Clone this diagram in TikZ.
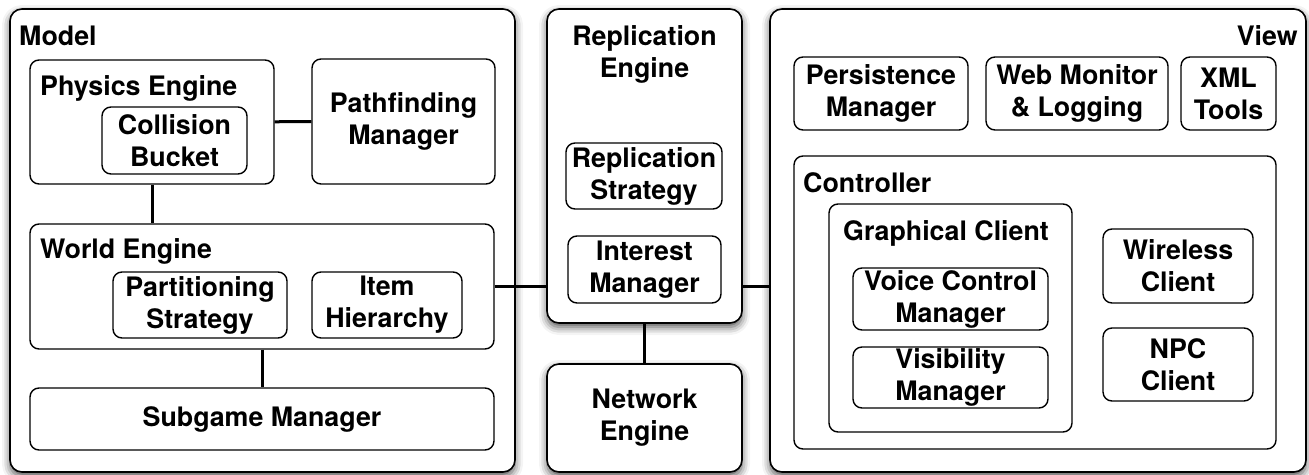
\documentclass[tikz,border=0pt]{standalone}
\usepackage{fontspec}
\setmainfont{TeX Gyre Heros}
\usetikzlibrary{shadows.blur}
\newcommand{\lbl}{\fontsize{26.8}{32}\selectfont\bfseries}
\tikzset{
  box/.style={draw, line width=1.4pt, rounded corners=9pt, fill=white, inner sep=0pt, align=center, font=\lbl},
  outerbox/.style={box, rounded corners=12pt, line width=1.6pt,
    blur shadow={shadow xshift=0pt, shadow yshift=-4pt, shadow blur radius=8pt, shadow opacity=70}},
  ttl/.style={inner sep=0pt, font=\lbl},
  conn/.style={line width=3pt}
}
\newcommand{\mybox}[7][]{\node[box,#1,minimum width={(#5)-(#3)},minimum height={(#6)-(#4)}] (#2) at ({((#3)+(#5))/2},{((#4)+(#6))/2}) {#7};}
\begin{document}
\begin{tikzpicture}[x=1pt,y=-1pt]
\useasboundingbox (0,0) rectangle (1309,474);
% outer boxes
\mybox[outerbox]{model}{10}{9}{515}{472}{}
\mybox[outerbox]{repl}{547}{9}{742}{323}{}
\mybox[outerbox]{net}{547}{364}{742}{472}{Network\\Engine}
\mybox[outerbox]{view}{770}{9}{1306}{472}{}
% Model
\node[ttl, anchor=base west] (modelt) at (19,45) {Model};
\mybox{phys}{30}{60}{274}{184}{}
\node[ttl, anchor=base west] (physt) at (40,95) {Physics Engine};
\mybox{coll}{102}{107}{247}{174}{Collision\\Bucket}
\mybox{path}{312}{59}{495}{184}{Pathfinding\\Manager}
\mybox{world}{30}{224}{494}{349}{}
\node[ttl, anchor=base west] (worldt) at (40,258) {World Engine};
\mybox{part}{113}{272}{287}{338}{Partitioning\\Strategy}
\mybox{item}{312}{272}{462}{338}{Item\\Hierarchy}
\mybox{sub}{30}{388}{494}{450}{Subgame Manager}
% Replication
\node[ttl, align=center] (replt) at (644.5,54.4) {Replication\\Engine};
\mybox{rstrat}{566}{143}{722}{209}{Replication\\Strategy}
\mybox{inter}{568}{236}{721}{303}{Interest\\Manager}
% View
\node[ttl, anchor=base east] (viewt) at (1298,45) {View};
\mybox{pers}{794}{57}{968}{130}{Persistence\\Manager}
\mybox{web}{986}{57}{1168}{130}{Web Monitor\\\& Logging}
\mybox{xml}{1181}{57}{1276}{130}{XML\\Tools}
\mybox{ctrl}{794}{156}{1276}{449}{}
\node[ttl, anchor=base west] (ctrlt) at (803,192) {Controller};
\mybox{gfx}{829}{204}{1072}{432}{}
\node[ttl, anchor=base west] (gfxt) at (843,240) {Graphical Client};
\mybox{voice}{853}{268}{1048}{330}{Voice Control\\Manager}
\mybox{vis}{853}{347}{1048}{408}{Visibility\\Manager}
\mybox{wire}{1103}{229}{1253}{303}{Wireless\\Client}
\mybox{npc}{1103}{328}{1253}{401}{NPC\\Client}
% connectors
\draw[conn] (phys) -- (path);
\draw[conn] (phys.south) -- (phys.south |- world.north);
\draw[conn] (world) -- (sub);
\draw[conn] (world.east) -- (world.east -| repl.west);
\draw[conn] (world.east -| repl.east) -- (world.east -| view.west);
\draw[conn] (repl) -- (net);
\end{tikzpicture}
\end{document}
